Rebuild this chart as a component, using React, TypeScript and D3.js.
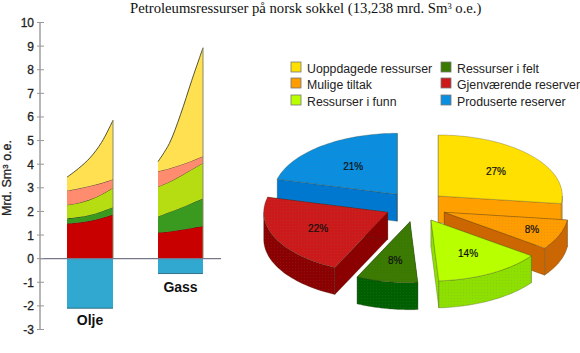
import React from "react";
import * as d3 from "d3";

const W = 580, H = 353;
const yTicks = [10, 9, 8, 7, 6, 5, 4, 3, 2, 1, 0, -1, -2, -3];
const stackFractions = [0, 0.25, 0.5, 0.75, 1];

const oljeRed = [1.49, 1.53, 1.6, 1.72, 1.87];
const oljeGreen = [1.7, 1.76, 1.85, 2.0, 2.18];
const oljeLime = [2.28, 2.36, 2.5, 2.72, 3.0];
const oljeSalmon = [2.88, 2.97, 3.08, 3.2, 3.36];
const oljeYellow = [3.45, 3.82, 4.27, 4.92, 5.86];
const oljeProduced = -2.1;

const gassRed = [1.11, 1.15, 1.22, 1.3, 1.38];
const gassGreen = [1.79, 1.97, 2.15, 2.35, 2.55];
const gassLime = [3.05, 3.25, 3.5, 3.78, 4.05];
const gassSalmon = [3.7, 3.82, 3.97, 4.14, 4.34];
const gassYellow = [4.11, 4.87, 6.1, 7.55, 8.93];
const gassProduced = -0.63;

const stackColors = ["#c80000", "#3a9a20", "#b6dc12", "#ff8c6e", "#ffe050"];
const producedColor = "#30a8d0";

const pieLabels = ["Uoppdagede ressurser", "Mulige tiltak", "Ressurser i funn", "Ressurser i felt", "Gjenværende reserver", "Produserte reserver"];
const pieValues = [27, 8, 14, 8, 22, 21];
const pieTop = ["#ffe000", "#ff9c00", "#b8ff00", "#3a7a00", "#cc1a1a", "#0a8fe0"];
const pieWall = ["#ffa000", "#cc6600", "#8ee000", "#006000", "#8b0000", "#0078d0"];
const pieApexX = [438.3, 444.3, 431, 410, 387.7, 397.3];
const pieApexY = [196, 212.3, 220, 221.7, 212.3, 194.3];
const pieLabelRadius = [0.62, 0.76, 0.62, 0.64, 0.62, 0.58];
const pieOrder = [5, 0, 4, 1, 3, 2];

const y = d3.scaleLinear().domain([-3, 10]).range([329.5, 22.5]);
const sans = "'Liberation Sans', Arial, sans-serif";

function Stack({ x0, x1, series, produced, label, labelY }: any) {
  const x = d3.scaleLinear().domain([0, 1]).range([x0, x1]);
  const base = stackFractions.map(() => 0);
  const layers = series.map((vals: number[], i: number) => {
    const lower = i === 0 ? base : series[i - 1];
    const area = d3.area<number>()
      .x((f) => x(f))
      .y0((_, j) => y(lower[j]))
      .y1((_, j) => y(vals[j]))
      .curve(d3.curveCatmullRom);
    const line = d3.line<number>()
      .x((f) => x(f))
      .y((_, j) => y(vals[j]))
      .curve(d3.curveCatmullRom);
    return (
      <g key={i}>
        <path d={area(stackFractions) as string} fill={stackColors[i]} />
        <path d={line(stackFractions) as string} fill="none" stroke="#2a2a1a" strokeWidth={0.8} />
      </g>
    );
  });
  const top = series[series.length - 1];
  return (
    <g>
      {layers}
      <line x1={x1} x2={x1} y1={y(top[4])} y2={y(0)} stroke="#8a8a60" strokeWidth={1} />
      <rect x={x0} width={x1 - x0} y={y(0)} height={y(produced) - y(0)} fill={producedColor} />
      <line x1={x0} x2={x1} y1={y(produced)} y2={y(produced)} stroke="#1c5a70" strokeWidth={0.8} />
      <text x={(x0 + x1) / 2} y={labelY} textAnchor="middle" fontFamily={sans} fontWeight="bold" fontSize={14} fill="#111">{label}</text>
    </g>
  );
}

export default function App() {
  const rx = 124, ry = 61, depth = 27;
  const pie = d3.pie<number>().sort(null)(pieValues);
  const pt = (a: number, cx: number, cy: number, dy = 0): [number, number] => [cx + rx * Math.sin(a), cy - ry * Math.cos(a) + dy];

  const slices = pieOrder.map((i) => {
    const { startAngle: a0, endAngle: a1 } = pie[i];
    const cx = pieApexX[i], cy = pieApexY[i];
    const steps = d3.range(0, 41).map((k) => a0 + ((a1 - a0) * k) / 40);
    const topPts: [number, number][] = [[cx, cy], ...steps.map((a) => pt(a, cx, cy))];
    const poly = d3.line();
    const topPath = poly(topPts) + "Z";
    const wall = (p: [number, number], q: [number, number]) =>
      poly([p, q, [q[0], q[1] + depth], [p[0], p[1] + depth]]) + "Z";
    const frontSteps = steps.filter((a) => a > Math.PI / 2 && a < (3 * Math.PI) / 2);
    const arcPts = [Math.max(a0, Math.PI / 2), ...frontSteps, Math.min(a1, (3 * Math.PI) / 2)];
    const outer = a1 > Math.PI / 2 && a0 < (3 * Math.PI) / 2
      ? poly([...arcPts.map((a) => pt(a, cx, cy)), ...arcPts.slice().reverse().map((a) => pt(a, cx, cy, depth))]) + "Z"
      : null;
    const apexWalls = [wall([cx, cy], pt(a0, cx, cy)), wall([cx, cy], pt(a1, cx, cy))];
    const mid = (a0 + a1) / 2;
    const r = pieLabelRadius[i];
    return (
      <g key={i} stroke="#3a3a20" strokeWidth={0.4} strokeOpacity={0.7}>
        {apexWalls.map((d, k) => <path key={k} d={d} fill={pieWall[i]} />)}
        {outer && <path d={outer} fill={pieWall[i]} />}
        {outer && <path d={outer} fill="url(#dots)" stroke="none" />}
        <path d={topPath} fill={pieTop[i]} />
        {i !== 0 && i !== 2 && <path d={topPath} fill="url(#dots)" stroke="none" />}
        <text x={cx + rx * r * Math.sin(mid)} y={cy - ry * r * Math.cos(mid) + 4} textAnchor="middle" fontFamily={sans} fontSize={10} fill="#111" stroke="#111" strokeWidth={0.2} strokeOpacity={1}>{pieValues[i]}%</text>
      </g>
    );
  });

  const legendX = [291, 441];
  const legendY = [62, 78, 95];

  return (
    <svg width={W} height={H} style={{ position: "absolute", left: 0, top: 0, background: "#fff" }}>
      <defs>
        <pattern id="dots" width={3} height={3} patternUnits="userSpaceOnUse">
          <rect x={1} y={1} width={1} height={1} fill="#777" fillOpacity={0.16} />
        </pattern>
      </defs>
      <text x={130} y={13} fontFamily="'Liberation Serif', serif" fontSize={14.7} fill="#111">
        Petroleumsressurser på norsk sokkel (13,238 mrd. Sm<tspan fontSize={8.5} dy={-4}>3</tspan><tspan dy={4}> o.e.)</tspan>
      </text>

      <Stack x0={67} x1={113} series={[oljeRed, oljeGreen, oljeLime, oljeSalmon, oljeYellow]} produced={oljeProduced} label="Olje" labelY={325} />
      <Stack x0={158} x1={203} series={[gassRed, gassGreen, gassLime, gassSalmon, gassYellow]} produced={gassProduced} label="Gass" labelY={292} />

      <line x1={40} x2={40} y1={y(10)} y2={y(-3)} stroke="#999" strokeWidth={1.4} />
      <line x1={40} x2={221} y1={y(0)} y2={y(0)} stroke="#77778c" strokeWidth={1.2} />
      {yTicks.map((t) => (
        <g key={t}>
          <line x1={37} x2={44} y1={y(t)} y2={y(t)} stroke="#999" strokeWidth={1} />
          <text x={34} y={y(t) + 4.5} textAnchor="end" fontFamily={sans} fontSize={12} fill="#222" stroke="#222" strokeWidth={0.3}>{t}</text>
        </g>
      ))}
      <text transform="translate(11,178) rotate(-90)" textAnchor="middle" fontFamily={sans} fontSize={12.5} fill="#222" stroke="#222" strokeWidth={0.3}>
        Mrd. Sm<tspan fontSize={8} dy={-3}>3</tspan><tspan dy={3}> o.e.</tspan>
      </text>

      {slices}

      {pieLabels.map((l, i) => {
        const col = i < 3 ? 0 : 1;
        const row = i % 3;
        return (
          <g key={l}>
            <rect x={legendX[col]} y={legendY[row]} width={10} height={10} fill={pieTop[i]} stroke="#777" strokeWidth={0.8} />
            <text x={legendX[col] + 16} y={legendY[row] + 11} fontFamily={sans} fontSize={12.3} fill="#222">{l}</text>
          </g>
        );
      })}
    </svg>
  );
}
